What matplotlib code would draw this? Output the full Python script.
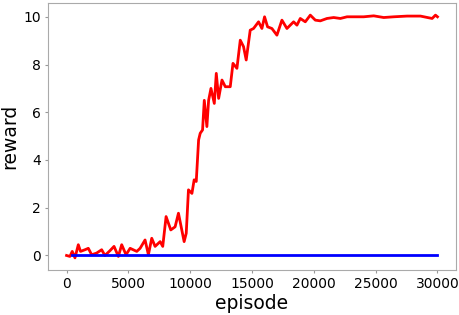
import matplotlib
matplotlib.use("Agg")
import matplotlib.pyplot as plt

# trained agent reward
red_episode = [0, 270, 460, 680, 950, 1130, 1490, 1760, 2030, 2430, 2840, 3100,
               3510, 3840, 4190, 4460, 4810, 5140, 5680, 5950, 6350, 6620, 6890,
               7160, 7570, 7780, 8050, 8430, 8780, 9050, 9320, 9510, 9680, 9860,
               10140, 10320, 10490, 10680, 10810, 11000, 11140, 11350, 11490,
               11680, 11950, 12110, 12300, 12570, 12840, 13240, 13460, 13780,
               14050, 14314, 14530, 14854, 15124, 15529, 15800, 16015, 16258,
               16609, 17014, 17419, 17824, 18364, 18634, 18904, 19309, 19714,
               20119, 20524, 21064, 21604, 22144, 22684, 23359, 24034, 24844,
               25654, 26464, 27544, 28624, 29569, 29839, 30000]
red_reward = [0.0, -0.04, 0.17, -0.1, 0.45, 0.17, 0.24, 0.3, 0.03, 0.1, 0.24, 0.0,
              0.2, 0.38, -0.04, 0.45, 0.03, 0.3, 0.17, 0.3, 0.65, 0.03, 0.72,
              0.38, 0.58, 0.38, 1.63, 1.07, 1.2, 1.77, 1.07, 0.58, 0.93, 2.75,
              2.6, 3.17, 3.1, 4.84, 5.12, 5.26, 6.5, 5.4, 6.5,
              7.0, 6.37, 7.63, 6.58, 7.35, 7.07, 7.07, 8.05, 7.84,
              9.02, 8.75, 8.19, 9.44, 9.51, 9.79, 9.51, 10.0, 9.58,
              9.51, 9.23, 9.86, 9.51, 9.79, 9.65, 9.93, 9.79, 10.07,
              9.86, 9.83, 9.93, 9.97, 9.93, 10.0, 10.0, 10.0, 10.04,
              9.97, 10.0, 10.03, 10.03, 9.93, 10.07, 10.0]

# baseline reward
blue_episode = [450, 30000]
blue_reward = [0.0, 0.0]

fig = plt.figure(figsize=(4.59, 3.15), dpi=100)
ax = fig.add_axes([0.1046, 0.1429, 0.8889, 0.8476])

ax.plot(red_episode, red_reward, color="red", linewidth=2.0)
ax.plot(blue_episode, blue_reward, color="blue", linewidth=2.0)

ax.set_xlabel("episode", fontsize=13.5, labelpad=2)
ax.set_ylabel("reward", fontsize=13.5, labelpad=3)
ax.tick_params(labelsize=10, color="#999999", length=2.5, pad=2.5)
for s in ax.spines.values():
    s.set_color("#aaaaaa")

fig.savefig("out.png", dpi=100)
